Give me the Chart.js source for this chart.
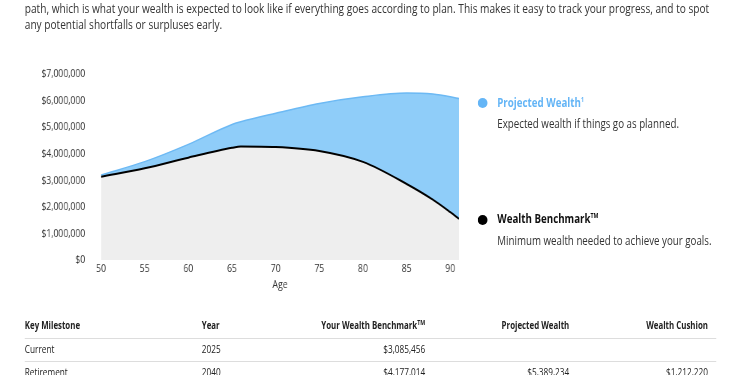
<!DOCTYPE html>
<html>
<head>
<meta charset="utf-8">
<script src="https://cdn.jsdelivr.net/npm/chart.js@4.4.1/dist/chart.umd.min.js"></script>
<style>
    html, body { margin: 0; padding: 0; background: #fff; overflow: hidden; }
    body { width: 750px; height: 375px; position: relative; font-family: 'Open Sans', sans-serif; color: #333; }
    /* the page text is condensed, so the whole page is squeezed horizontally */
    #page { position: absolute; left: 0; top: 0; width: 1000px; height: 375px; transform: scaleX(0.75); transform-origin: 0 0; }
    .abs { position: absolute; white-space: nowrap; }
    #intro { left: 33px; top: 1px; font-size: 13.5px; line-height: 15.5px; color: #333; }
    #chart-box { position: absolute; left: 0; top: 46px; width: 640px; height: 254px; }
    .dot { position: absolute; width: 13.3px; height: 10px; border-radius: 50%; }
    .leg-title { font-size: 13px; font-weight: 700; }
    .leg-text { font-size: 13px; color: #333; }
    .th { font-size: 10.5px; font-weight: 700; color: #222; }
    .td { font-size: 11px; color: #222; }
    .rule { position: absolute; left: 33px; width: 922px; height: 1px; background: #ddd; }
    sup { font-size: 7px; line-height: 0; }
</style>
</head>
<body>
<div id="page">
    <div id="intro" class="abs">path, which is what your wealth is expected to look like if everything goes according to plan. This makes it easy to track your progress, and to spot<br>any potential shortfalls or surpluses early.</div>

    <div id="chart-box"><canvas id="wealth-chart"></canvas></div>

    <div class="dot" style="left:637px; top:98px; background:#64b5f6;"></div>
    <div class="abs leg-title" style="left:663px; top:93px; color:#64b5f6;">Projected Wealth<sup>1</sup></div>
    <div class="abs leg-text" style="left:663px; top:114px;">Expected wealth if things go as planned.</div>

    <div class="dot" style="left:637px; top:215px; background:#000;"></div>
    <div class="abs leg-title" style="left:663px; top:209px; color:#111;">Wealth Benchmark<sup>TM</sup></div>
    <div class="abs leg-text" style="left:663px; top:231px;">Minimum wealth needed to achieve your goals.</div>

    <div id="table"></div>
</div>

<script>
const ages = [50, 55, 60, 65, 66, 70, 75, 80, 85, 88, 90, 91];
const projectedWealth = [3200000, 3700000, 4350000, 5100000, 5200000, 5520000, 5890000, 6140000, 6280000, 6240000, 6140000, 6070000];
const wealthBenchmark = [3130000, 3450000, 3850000, 4220000, 4270000, 4250000, 4100000, 3690000, 2860000, 2270000, 1800000, 1550000];
const ageTicks = [50, 55, 60, 65, 70, 75, 80, 85, 90];

const tableHeaders = ['Key Milestone', 'Year', 'Your Wealth Benchmark™', 'Projected Wealth', 'Wealth Cushion'];
const milestones = ['Current', 'Retirement'];
const milestoneYears = ['2025', '2040'];
const milestoneBenchmark = ['$3,085,456', '$4,177,014'];
const milestoneProjected = ['', '$5,389,234'];
const milestoneCushion = ['', '$1,212,220'];

function toPoints(values) {
    return ages.map((age, i) => ({ x: age, y: values[i] }));
}

function buildTable() {
    const table = document.getElementById('table');
    // column anchors: left edge for the first two, right edge for the money columns
    const cols = [
        { left: 33 }, { left: 269 },
        { right: 1000 - 567 }, { right: 1000 - 759 }, { right: 1000 - 944 }
    ];
    const rowTops = [318, 341, 364];

    function cell(text, col, top, cls) {
        const el = document.createElement('div');
        el.className = 'abs ' + cls;
        el.style.top = top + 'px';
        if (col.left !== undefined) el.style.left = col.left + 'px';
        else el.style.right = col.right + 'px';
        el.innerHTML = text.replace('™', '<sup>TM</sup>');
        table.appendChild(el);
    }

    tableHeaders.forEach((h, i) => cell(h, cols[i], rowTops[0], 'th'));
    milestones.forEach((m, r) => {
        const row = [m, milestoneYears[r], milestoneBenchmark[r], milestoneProjected[r], milestoneCushion[r]];
        row.forEach((t, i) => cell(t, cols[i], rowTops[r + 1], 'td'));
    });

    [338, 361].forEach(y => {
        const line = document.createElement('div');
        line.className = 'rule';
        line.style.top = y + 'px';
        table.appendChild(line);
    });
}

function createChart() {
    const ctx = document.getElementById('wealth-chart').getContext('2d');
    const tickFont = { family: "'Open Sans', sans-serif", size: 11.5 };

    new Chart(ctx, {
        type: 'line',
        data: {
            datasets: [{
                label: 'Wealth Benchmark',
                data: toPoints(wealthBenchmark),
                borderColor: '#000',
                borderWidth: 2,
                backgroundColor: '#eeeeee',
                fill: 'origin',
                pointRadius: 0,
                cubicInterpolationMode: 'monotone'
            }, {
                label: 'Projected Wealth',
                data: toPoints(projectedWealth),
                borderColor: '#6cb9f4',
                borderWidth: 1.5,
                backgroundColor: '#8fcdf9',
                fill: 0,
                pointRadius: 0,
                cubicInterpolationMode: 'monotone'
            }]
        },
        options: {
            responsive: true,
            maintainAspectRatio: false,
            animation: false,
            layout: { padding: { top: 6, right: 28, left: 0, bottom: 0 } },
            scales: {
                x: {
                    type: 'linear',
                    min: 50,
                    max: 91,
                    afterBuildTicks: (scale) => { scale.ticks = ageTicks.map(v => ({ value: v })); },
                    afterFit: (scale) => { scale.height = 40; },
                    ticks: { font: tickFont, color: '#333', padding: 2 },
                    grid: { display: false, drawTicks: false },
                    border: { display: false },
                    title: { display: true, text: 'Age', font: tickFont, color: '#333', padding: { top: 0, bottom: 8 } }
                },
                y: {
                    min: 0,
                    max: 7000000,
                    afterFit: (scale) => { scale.width = 134.7; },
                    ticks: {
                        stepSize: 1000000,
                        font: tickFont,
                        color: '#333',
                        padding: 21,
                        callback: (v) => '$' + v.toLocaleString('en-US')
                    },
                    grid: { display: false, drawTicks: false },
                    border: { display: false }
                }
            },
            plugins: {
                legend: { display: false },
                tooltip: { enabled: false }
            }
        }
    });
}

document.addEventListener('DOMContentLoaded', () => {
    buildTable();
    createChart();
});
</script>
</body>
</html>
